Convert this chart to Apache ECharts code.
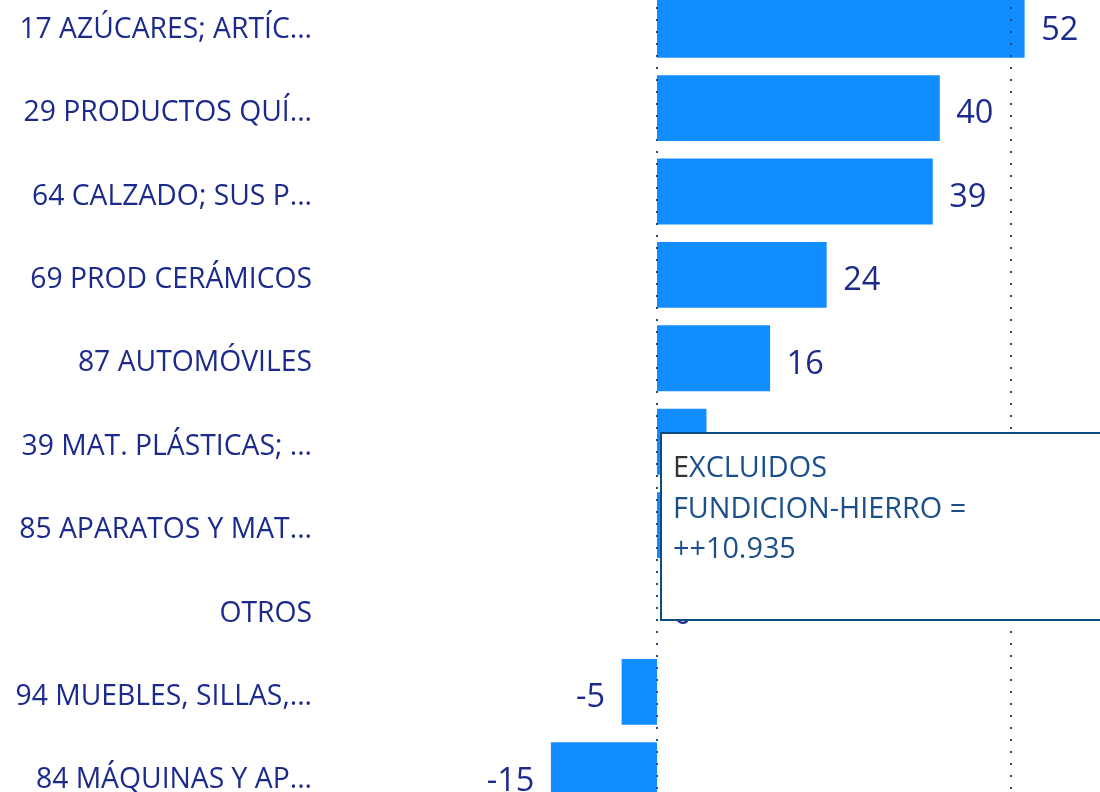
<!DOCTYPE html>
<html><head><meta charset="utf-8">
<script src="https://cdn.jsdelivr.net/npm/echarts@6/dist/echarts.min.js"></script>
<style>html,body{margin:0;padding:0;background:#fff}#c{width:1100px;height:792px}</style>
</head><body><div id="c"></div>
<script>
const categories = ["17 AZÚCARES; ARTÍC...","29 PRODUCTOS QUÍ...","64 CALZADO; SUS P...","69 PROD CERÁMICOS","87 AUTOMÓVILES","39 MAT. PLÁSTICAS; ...","85 APARATOS Y MAT...","OTROS","94 MUEBLES, SILLAS,...","84 MÁQUINAS Y AP..."];
const values = [52, 40, 39, 24, 16, 7, 3, 0, -5, -15];
const gridValues = [0, 50];
const noteLines = ["EXCLUIDOS", "FUNDICION-HIERRO =", "++10.935"];

const chart = echarts.init(document.getElementById('c'));
const navy = '#1c2a8c';
chart.setOption({
  animation: false,
  grid: {left: 320, right: 0, top: -17, height: 834, containLabel: false, outerBoundsMode: 'none'},
  xAxis: {type: 'value', min: -47.66, max: 62.66, show: false, splitLine: {show: false}},
  yAxis: {type: 'category', inverse: true, data: categories,
    axisLine: {show: false}, axisTick: {show: false},
    axisLabel: {margin: 8, align: 'right',
      formatter: v => '{a|' + v + '}',
      rich: {a: {color: navy, fontSize: 28.3, fontFamily: 'Open Sans', padding: [10, 0, 0, 0]}}}},
  series: [{
    type: 'bar', barCategoryGap: '21%',
    itemStyle: {color: '#118dff'},
    data: values.map(v => ({value: v, label: {position: v < 0 ? 'left' : 'right'}})),
    label: {show: true, color: navy, fontSize: 32.5, fontFamily: 'Open Sans', distance: 16.5, offset: [0, 6]},
    markLine: {silent: true, symbol: 'none', label: {show: false},
      lineStyle: {color: '#1f4e79', type: [2, 10], width: 2},
      data: gridValues.map(g => ({xAxis: g}))},
    z: 2
  }],
  graphic: [
    {type: 'rect', z: 100, zlevel: 1, shape: {x: 661, y: 433, width: 460, height: 187},
      style: {fill: '#ffffff', stroke: '#0e4a80', lineWidth: 2}},
    {type: 'text', z: 101, zlevel: 1, x: 673, y: 449, style: {
      text: '{e|E}{b|' + noteLines[0].slice(1) + '}\n{b|' + noteLines[1] + '}\n{b|' + noteLines[2] + '}',
      rich: {e: {fill: '#333333', fontSize: 28.8, fontFamily: 'Open Sans', lineHeight: 40.5},
             b: {fill: '#1b4f8a', fontSize: 28.8, fontFamily: 'Open Sans', lineHeight: 40.5}}
    }}
  ]
});
</script></body></html>
